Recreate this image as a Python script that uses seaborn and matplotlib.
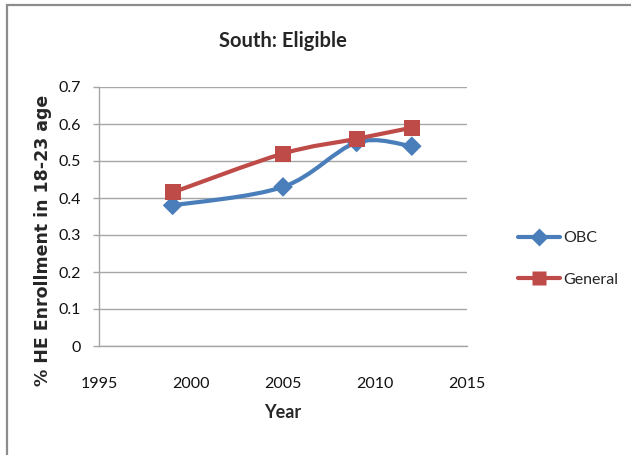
import numpy as np
import pandas as pd
import matplotlib
matplotlib.use("Agg")
import matplotlib.pyplot as plt
from matplotlib.path import Path
from matplotlib.patches import PathPatch, Rectangle
from matplotlib.lines import Line2D
import seaborn as sns

# Survey years and enrollment shares
years = [1999, 2005, 2009, 2012]
obc = [0.38, 0.43, 0.55, 0.54]
general = [0.415, 0.52, 0.56, 0.59]
series_names = ["OBC", "General"]
x_ticks = [1995, 2000, 2005, 2010, 2015]
y_ticks = [0, 0.1, 0.2, 0.3, 0.4, 0.5, 0.6, 0.7]

colors = {"OBC": "#4a7ebb", "General": "#be4b48"}
markers = {"OBC": "D", "General": "s"}
msize = {"OBC": 10, "General": 11.5}

df = pd.DataFrame({
    "Year": years * 2,
    "value": obc + general,
    "series": ["OBC"] * len(years) + ["General"] * len(years),
})

sns.set_theme(style="white")
plt.rcParams["font.family"] = ["Lato", "DejaVu Sans"]

fig = plt.figure(figsize=(6.31, 4.55), dpi=100)
ax = fig.add_axes([99 / 631, 1 - 346 / 455, (467 - 99) / 631, (346 - 87) / 455])

# outer chart frame
fig.patches.append(Rectangle((7 / 631, -0.01), 1.05, 1 - 5 / 455 + 0.01,
                             transform=fig.transFigure, fill=False,
                             edgecolor="#8c8c8c", linewidth=1.6, zorder=0))


def smooth_path(xs, ys):
    """Cubic Bezier through the points, with cardinal-spline control points."""
    pts = np.column_stack([xs, ys]).astype(float)
    n = len(pts)
    verts = [pts[0]]
    codes = [Path.MOVETO]
    for i in range(n - 1):
        p0 = pts[max(i - 1, 0)]
        p1 = pts[i]
        p2 = pts[i + 1]
        p3 = pts[min(i + 2, n - 1)]
        c1 = p1 + (p2 - p0) / 6.0
        c2 = p2 - (p3 - p1) / 6.0
        verts += [c1, c2, p2]
        codes += [Path.CURVE4] * 3
    return Path(verts, codes)


for k, name in enumerate(series_names):
    sub = df[df["series"] == name]
    patch = PathPatch(smooth_path(sub["Year"], sub["value"]), fill=False,
                      edgecolor=colors[name], linewidth=3.0,
                      capstyle="round", joinstyle="round", zorder=3 + 2 * k)
    ax.add_patch(patch)
    sns.scatterplot(data=sub, x="Year", y="value", ax=ax, color=colors[name],
                    marker=markers[name], s=msize[name] ** 2, edgecolor="none",
                    zorder=4 + 2 * k, legend=False)

ax.set_xlim(1995, 2015)
ax.set_ylim(0, 0.7)
ax.set_xticks(x_ticks)
ax.set_xticklabels([str(t) for t in x_ticks])
ax.set_yticks(y_ticks)
ax.set_yticklabels(["0" if t == 0 else f"{t:.1f}" for t in y_ticks])
ax.yaxis.grid(True, color="#a6a6a6", linewidth=1.0)
ax.xaxis.grid(False)
ax.set_axisbelow(True)

for side in ["top", "right"]:
    ax.spines[side].set_visible(False)
for side in ["left", "bottom"]:
    ax.spines[side].set_color("#a6a6a6")
    ax.spines[side].set_linewidth(1.0)

ax.tick_params(axis="y", which="major", left=True, length=4, width=1.0,
               color="#a6a6a6", pad=9, labelsize=11.5, labelcolor="#111111")
ax.tick_params(axis="x", which="major", bottom=False, pad=16,
               labelsize=11.5, labelcolor="#111111")

ax.set_xlabel("Year", fontsize=13, fontweight="bold", labelpad=10)
ax.set_ylabel("% HE Enrollment in 18-23 age", fontsize=12.5, fontweight="bold",
              family=["DejaVu Sans"])
ax.yaxis.set_label_coords(-0.128, 0.409)
ax.set_title("South: Eligible", fontsize=14.5, fontweight="bold", pad=29)

handles = [Line2D([0], [0], color=colors[n], linewidth=3.0, marker=markers[n],
                  markersize=msize[n] - 1, markeredgecolor="none")
           for n in series_names]
leg = fig.legend(handles, series_names, loc="center left",
                 bbox_to_anchor=(512 / 631, 1 - 259 / 455), frameon=False,
                 fontsize=11.5, handlelength=2.6, handletextpad=0.2,
                 labelspacing=1.7, borderaxespad=0)

fig.savefig("out.png", dpi=100)
